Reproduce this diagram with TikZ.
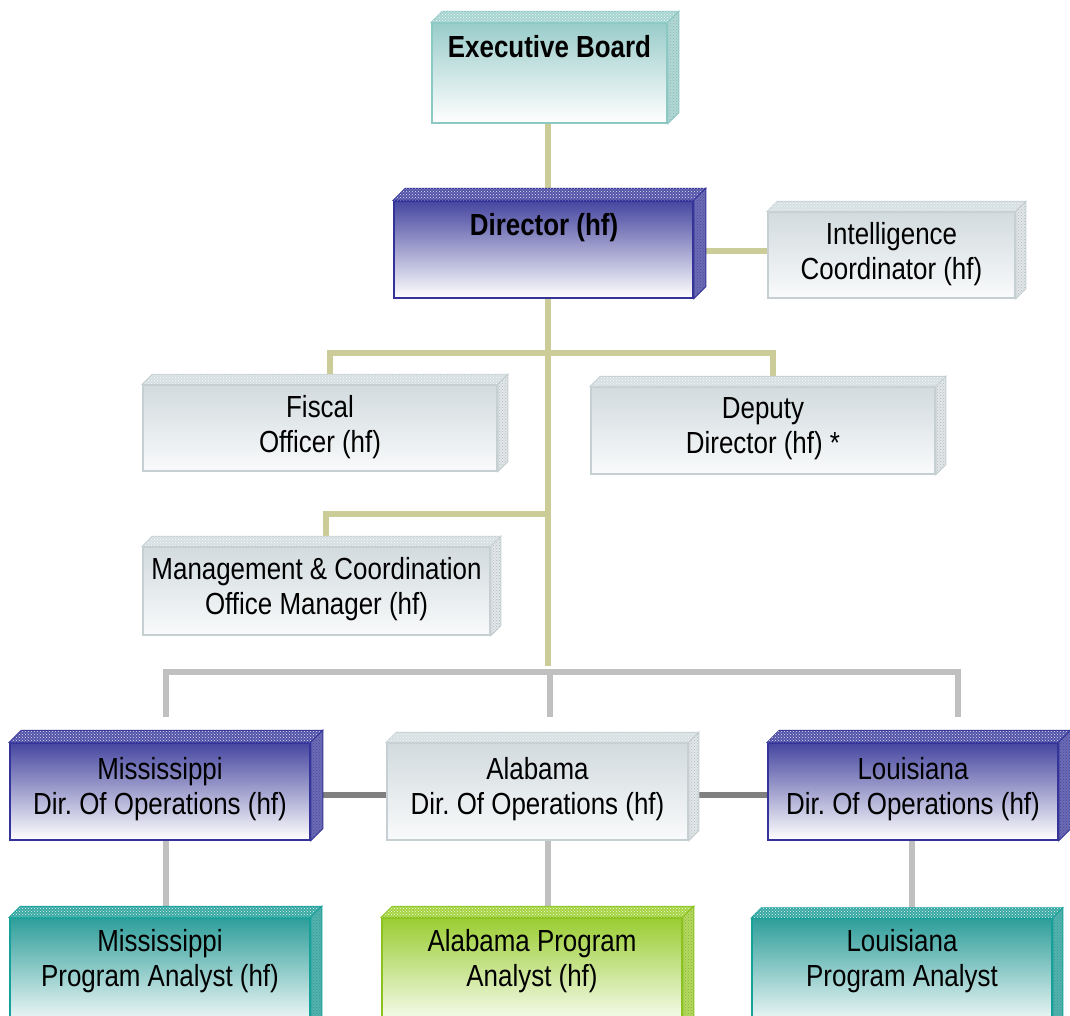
\documentclass[tikz,border=0pt]{standalone}
\usepackage{fontspec}
\setmainfont{Liberation Sans}[FakeStretch=0.85]
\usetikzlibrary{patterns}
\pgfdeclarelayer{bg}
\pgfsetlayers{bg,main}
\frenchspacing
\definecolor{tanc}{HTML}{CCCC99}
\definecolor{grayc}{HTML}{C0C0C0}
\definecolor{dkgrayc}{HTML}{808080}
\definecolor{ebTop}{HTML}{99CCCA}
\definecolor{ebBorder}{HTML}{8CC8C4}
\definecolor{ebTopFace}{HTML}{A6D4D1}
\definecolor{ebSide}{HTML}{B3D9D6}
\definecolor{blTop}{HTML}{4646A0}
\definecolor{blBorder}{HTML}{333399}
\definecolor{blTopFace}{HTML}{5252A8}
\definecolor{blSide}{HTML}{6A6AB6}
\definecolor{grTop}{HTML}{D2DBDE}
\definecolor{grBot}{HTML}{F9FAFB}
\definecolor{grBorder}{HTML}{C6D0D3}
\definecolor{grTopFace}{HTML}{D6DFE1}
\definecolor{grSide}{HTML}{E2E7E9}
\definecolor{tlTop}{HTML}{2E9E9A}
\definecolor{tlBorder}{HTML}{16A09A}
\definecolor{tlTopFace}{HTML}{3AA9A4}
\definecolor{tlSide}{HTML}{52B2AE}
\definecolor{lmTop}{HTML}{9ACD32}
\definecolor{lmBorder}{HTML}{8BC220}
\definecolor{lmTopFace}{HTML}{A6D443}
\definecolor{lmSide}{HTML}{B3D95E}
\tikzset{
  orgbox/.style={rectangle, inner sep=0pt, line width=1.5pt},
  ebbox/.style={orgbox, draw=ebBorder, top color=ebTop, bottom color=white},
  blbox/.style={orgbox, draw=blBorder, top color=blTop, bottom color=white},
  grbox/.style={orgbox, draw=grBorder, top color=grTop, bottom color=grBot},
  tlbox/.style={orgbox, draw=tlBorder, top color=tlTop, bottom color=white},
  lmbox/.style={orgbox, draw=lmBorder, top color=lmTop, bottom color=white},
  lbl/.style={inner sep=0pt, align=center, anchor=north, font=\fontsize{30.5}{35}\selectfont},
  tanline/.style={draw=tanc, line width=6pt},
  grayline/.style={draw=grayc, line width=6pt},
  dkline/.style={draw=dkgrayc, line width=6pt},
}
\newcommand\boxfaces[5]{%
  \filldraw[draw=#5, fill=#3, line width=1pt] (#1.north west) -- ++(#2,-#2) -- ([shift={(#2,-#2)}]#1.north east) -- (#1.north east) -- cycle;
  \fill[pattern=crosshatch dots, pattern color=white!85!#3] (#1.north west) -- ++(#2,-#2) -- ([shift={(#2,-#2)}]#1.north east) -- (#1.north east) -- cycle;
  \filldraw[draw=#5, fill=#4, line width=1pt] (#1.north east) -- ++(#2,-#2) -- ([shift={(#2,-#2)}]#1.south east) -- (#1.south east) -- cycle;
  \fill[pattern=crosshatch dots, pattern color=#5!70!gray] (#1.north east) -- ++(#2,-#2) -- ([shift={(#2,-#2)}]#1.south east) -- (#1.south east) -- cycle;
}
\begin{document}
\begin{tikzpicture}[x=1pt,y=-1pt]
\useasboundingbox (0,0) rectangle (1070,1015);
\clip (0,0) rectangle (1070,1015);
% boxes
\node[ebbox, minimum width=235pt, minimum height=100pt] (eb) at (549.5,73) {};
\node[blbox, minimum width=299pt, minimum height=97pt] (dir) at (543.5,249.5) {};
\node[grbox, minimum width=247pt, minimum height=86pt] (intel) at (891.5,255) {};
\node[grbox, minimum width=354pt, minimum height=86pt] (fis) at (320,428) {};
\node[grbox, minimum width=344pt, minimum height=87pt] (dep) at (763,430.5) {};
\node[grbox, minimum width=347pt, minimum height=88pt] (mg) at (316.5,591) {};
\node[blbox, minimum width=300pt, minimum height=97pt] (missd) at (160,791.5) {};
\node[grbox, minimum width=301pt, minimum height=97pt] (alad) at (537.5,791.5) {};
\node[blbox, minimum width=290pt, minimum height=97pt] (loud) at (913,791.5) {};
\node[tlbox, minimum width=300pt, minimum height=112pt] (misspa) at (160,974) {};
\node[lmbox, minimum width=300pt, minimum height=112pt] (alapa) at (532,974) {};
\node[tlbox, minimum width=300pt, minimum height=112pt] (loupa) at (902,974.5) {};
% 3D faces
\boxfaces{eb}{11}{ebTopFace}{ebSide}{ebBorder}
\boxfaces{dir}{12}{blTopFace}{blSide}{blBorder}
\boxfaces{intel}{10}{grTopFace}{grSide}{grBorder}
\boxfaces{fis}{10}{grTopFace}{grSide}{grBorder}
\boxfaces{dep}{10}{grTopFace}{grSide}{grBorder}
\boxfaces{mg}{10}{grTopFace}{grSide}{grBorder}
\boxfaces{missd}{12}{blTopFace}{blSide}{blBorder}
\boxfaces{alad}{10}{grTopFace}{grSide}{grBorder}
\boxfaces{loud}{12}{blTopFace}{blSide}{blBorder}
\boxfaces{misspa}{11}{tlTopFace}{tlSide}{tlBorder}
\boxfaces{alapa}{11}{lmTopFace}{lmSide}{lmBorder}
\boxfaces{loupa}{10}{tlTopFace}{tlSide}{tlBorder}
% labels
\node[lbl] (ebt) at (549.5,35) {\bfseries Executive Board};
\node[lbl] (dirt) at (544,213) {\bfseries Director (hf)};
\node[lbl] (intelt) at (891.5,222) {Intelligence\\Coordinator (hf)};
\node[lbl] (fist) at (320,395) {Fiscal\\Officer (hf)};
\node[lbl] (dept) at (763,397) {Deputy\\Director (hf) *};
\node[lbl] (mgt) at (316.5,557) {Management \& Coordination\\Office Manager (hf)};
\node[lbl] (missdt) at (160,757) {Mississippi\\Dir. Of Operations (hf)};
\node[lbl] (aladt) at (537.5,757) {Alabama\\Dir. Of Operations (hf)};
\node[lbl] (loudt) at (913,757) {Louisiana\\Dir. Of Operations (hf)};
\node[lbl] (misspat) at (160,929) {Mississippi\\Program Analyst (hf)};
\node[lbl] (alapat) at (532,929) {Alabama Program\\Analyst (hf)};
\node[lbl] (loupat) at (902,929) {Louisiana\\Program Analyst};
% junction coordinates
\coordinate (j1) at (548,353);
\coordinate (j2) at (548,514);
\coordinate (jt) at (548,666);
\coordinate (bL) at (330,353);
\coordinate (bR) at (773,353);
\coordinate (mL) at (326,514);
\coordinate (gL) at (166,672);
\coordinate (gC) at (550,672);
\coordinate (gR) at (958,672);
\coordinate (gLe) at (166,717);
\coordinate (gCe) at (550,717);
\coordinate (gRe) at (958,717);
\coordinate (lv) at (912,880);
% connectors
\begin{pgfonlayer}{bg}
\draw[tanline] (eb.south -| j1) -- (dir.north -| j1);
\draw[tanline] (dir.east |- 0,251) -- (intel.west |- 0,251);
\draw[tanline] (dir.south -| j1) -- (jt);
\draw[tanline] (fis.north -| bL) |- (bR) -- (bR |- dep.north);
\draw[tanline] (mg.north -| mL) |- (j2);
\draw[grayline] (gLe) |- (gR) -- (gRe);
\draw[grayline] (gC) -- (gCe);
\draw[dkline] ([yshift=-3.5pt]missd.east) -- ([yshift=-3.5pt]alad.west);
\draw[dkline] ([yshift=-3.5pt]alad.east) -- ([yshift=-3.5pt]loud.west);
\draw[grayline] (missd.south -| gL) -- (misspa.north -| gL);
\draw[grayline] (alad.south -| j1) -- (alapa.north -| j1);
\draw[grayline] (loud.south -| lv) -- (loupa.north -| lv);
\end{pgfonlayer}
\end{tikzpicture}
\end{document}
